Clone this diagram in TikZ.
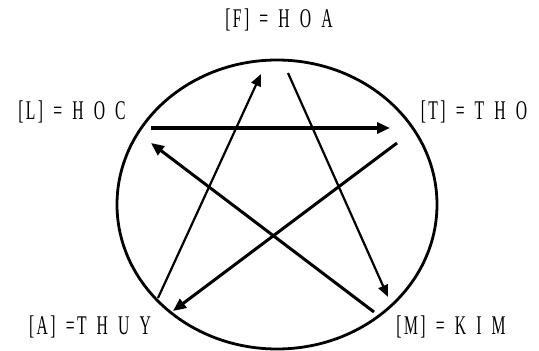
\documentclass[tikz,border=0pt]{standalone}
\usepackage{fontspec}
\setmainfont[FakeStretch=0.58,LetterSpace=9,WordSpace=1.6]{Liberation Serif}
\usetikzlibrary{arrows.meta}
\tikzset{
  lbl/.style={inner sep=0pt, font=\fontsize{27}{30}\selectfont},
  thick arrow/.style={line width=3pt, -{Triangle[length=13pt,width=11pt]}},
  thin arrow/.style={line width=2.2pt, -{Triangle[length=12pt,width=10pt]}},
  ring/.style={line width=2.8pt}
}
\begin{document}
\begin{tikzpicture}[x=1pt,y=-1pt]
\useasboundingbox (0,0) rectangle (539,351);
% labels
\node[lbl] (F) at (279,20) {[F] = H O A};
\node[lbl] (L) at (72,112) {[L] = H O C};
\node[lbl] (T) at (474,112) {[T] = T H O};
\node[lbl] (A) at (90,327) {[A] =T H U Y};
\node[lbl] (M) at (451,327) {[M] = K I M};
% circle
\coordinate (ctr) at (277,204.5);
\draw[ring] (ctr) ellipse [x radius=160pt, y radius=144.5pt];
% endpoints
\coordinate (Lout) at (151,128);
\coordinate (Tin)  at (390,128);
\coordinate (Tout) at (397,143);
\coordinate (Ain)  at (173,311);
\coordinate (Aout) at (158,298);
\coordinate (Fin)  at (261,74);
\coordinate (Fout) at (288,73);
\coordinate (Min)  at (388,297);
\coordinate (Mout) at (374,312);
\coordinate (Lin)  at (151,143);
% arrows
\draw[line width=3.6pt, -{Triangle[length=13pt,width=11pt]}] (Lout) -- (Tin);
\draw[thick arrow] (Tout) -- (Ain);
\draw[thin arrow] (Aout) -- (Fin);
\draw[thin arrow] (Fout) -- (Min);
\draw[thick arrow] (Mout) -- (Lin);
\end{tikzpicture}
\end{document}
